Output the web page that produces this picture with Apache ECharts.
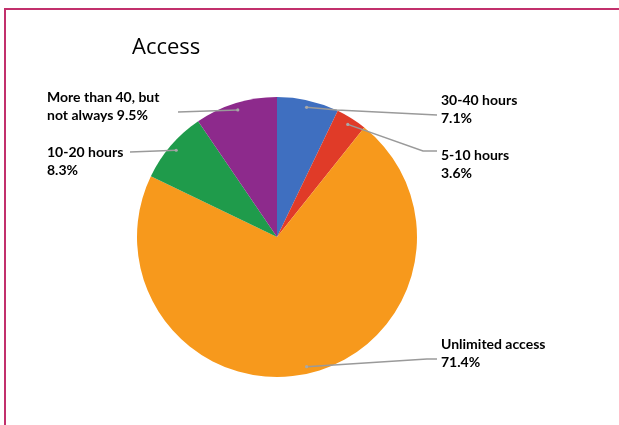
<!DOCTYPE html>
<html>
<head>
<meta charset="utf-8">
<script src="https://cdn.jsdelivr.net/npm/echarts@6/dist/echarts.min.js"></script>
<style>
  html, body { margin: 0; padding: 0; background: #fff; }
  #main { width: 619px; height: 425px; }
</style>
</head>
<body>
<div id="main"></div>
<script>
// slices, clockwise from 12 o'clock (respondent counts)
const categories = ['30-40 hours', '5-10 hours', 'Unlimited access', '10-20 hours', 'More than 40, but\nnot always'];
const counts = [6, 3, 60, 7, 8];
const colors = ['#3f6fc0', '#e03b28', '#f7991c', '#1f9b4b', '#8d2a8c'];

const cx = 277, cy = 237, R = 140;

// where each label sits and the bend points of its leader line
const labelPos = [
  { x: 441, y: 91, line: [[337, 110], [437, 115]] },
  { x: 441, y: 146, line: [[423, 151], [437, 151]] },
  { x: 441, y: 335, line: [[427, 359], [437, 359]] },
  { x: 47, y: 143, line: [[130, 152]] },
  { x: 47, y: 88, line: [[178, 112]] }
];

const total = counts.reduce((a, b) => a + b, 0);
function midPoint(i) {
  let before = 0;
  for (let k = 0; k < i; k++) before += counts[k];
  const ang = (before + counts[i] / 2) / total * Math.PI * 2;
  const r = R * 0.95;
  return [cx + r * Math.sin(ang), cy - r * Math.cos(ang)];
}

const chart = echarts.init(document.getElementById('main'));

const pieData = categories.map((name, i) => ({ name: name, value: counts[i], itemStyle: { color: colors[i] } }));

const option = {
  animation: false,
  title: {
    text: 'Access',
    left: 127,
    top: 32,
    textStyle: { fontFamily: 'Open Sans', fontWeight: 'normal', fontSize: 22, color: '#000' }
  },
  graphic: [{
    type: 'rect',
    shape: { x: 5, y: 9, width: 700, height: 500 },
    style: { fill: 'none', stroke: '#c2306c', lineWidth: 2 },
    silent: true
  }].concat(counts.map((c, i) => ({
    type: 'circle',
    shape: { cx: midPoint(i)[0], cy: midPoint(i)[1], r: 1.6 },
    style: { fill: '#a8a8a8' },
    z: 100,
    silent: true
  }))),
  series: [{
    type: 'pie',
    center: [cx, cy],
    radius: R,
    startAngle: 90,
    clockwise: true,
    silent: true,
    data: pieData,
    itemStyle: { borderWidth: 0 },
    label: { show: false },
    labelLine: { show: false }
  }, {
    // transparent copy on top, carrying the labels and leader lines
    type: 'pie',
    z: 5,
    center: [cx, cy],
    radius: R,
    startAngle: 90,
    clockwise: true,
    silent: true,
    data: categories.map((name, i) => ({ name: name, value: counts[i] })),
    itemStyle: { color: 'rgba(0,0,0,0)', borderWidth: 0 },
    label: {
      show: true,
      fontFamily: 'Lato',
      fontWeight: 'bold',
      fontSize: 14,
      lineHeight: 18,
      color: '#000',
      formatter: p => p.name + (p.name.indexOf('\n') >= 0 ? ' ' : '\n') + (p.value / total * 100).toFixed(1) + '%'
    },
    labelLine: {
      show: true,
      lineStyle: { color: '#9a9a9a', width: 1.5 }
    },
    labelLayout: function (params) {
      const i = params.dataIndex;
      const lp = labelPos[i];
      return {
        x: lp.x,
        y: lp.y,
        align: 'left',
        verticalAlign: 'top',
        labelLinePoints: [midPoint(i)].concat(lp.line)
      };
    }
  }]
};

chart.setOption(option);
</script>
</body>
</html>
